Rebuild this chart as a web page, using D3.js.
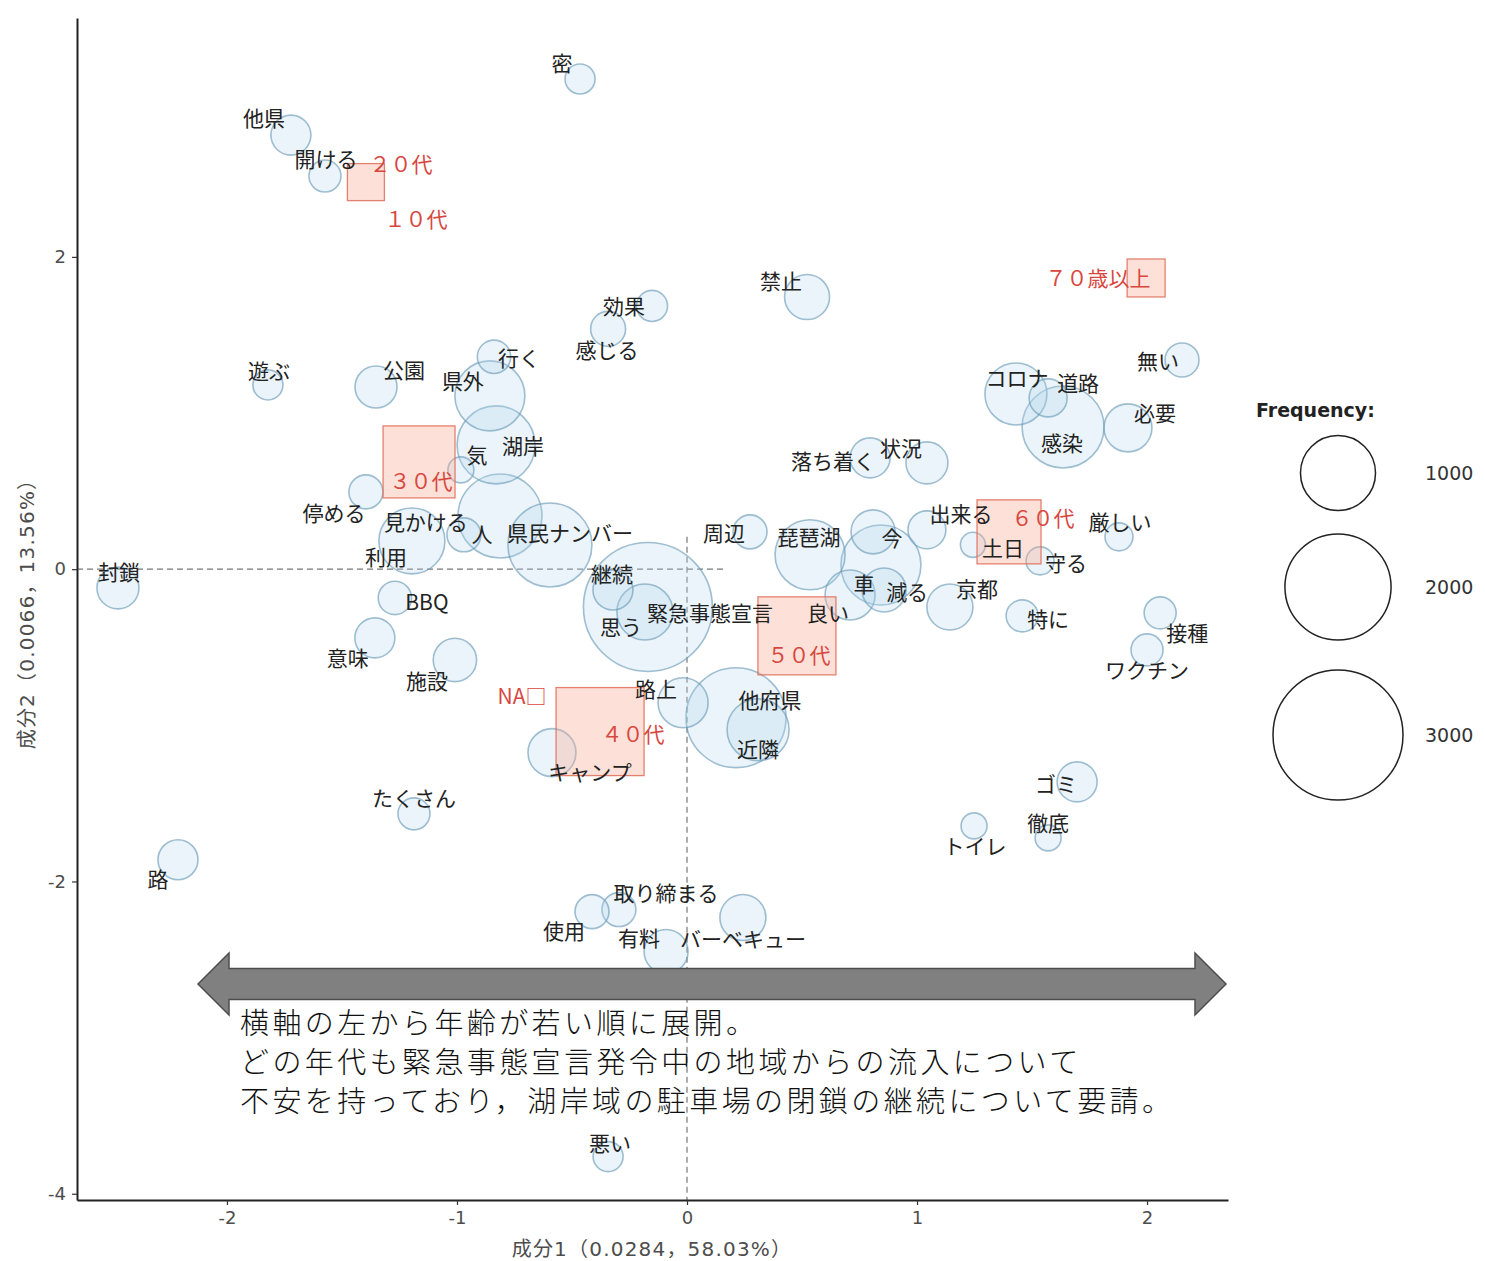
<!DOCTYPE html>
<html>
<head>
<meta charset="utf-8">
<script src="https://cdn.jsdelivr.net/npm/d3@7.9.0/dist/d3.min.js"></script>
<style>
  body { margin: 0; background: #fff; }
  svg { display: block; }
  .lab { font-family: "Noto Sans CJK JP", sans-serif; font-size: 21px; fill: #222; }
  .age { font-family: "Noto Sans CJK JP", sans-serif; font-size: 21px; fill: #d8473f; }
  .tick text { font-family: "DejaVu Sans", sans-serif; font-size: 18px; fill: #4d4d4d; }
  .ttl { font-family: "DejaVu Sans", "Noto Sans CJK JP", sans-serif; font-size: 20px; letter-spacing: 1.2px; fill: #4d4d4d; }
</style>
</head>
<body>
<svg id="chart" width="1485" height="1261"></svg>
<script>
// words (correspondence analysis, dim1 / dim2 / frequency)
const words = ['密','他県','開ける','禁止','効果','感じる','行く','遊ぶ','公園','県外',
  '湖岸','気','停める','利用','見かける','人','県民ナンバー','継続','緊急事態宣言','思う',
  '周辺','琵琶湖','今','車','減る','良い','出来る','京都','土日','守る',
  '厳しい','特に','落ち着く','状況','コロナ','道路','感染','必要','無い','接種',
  'ワクチン','ゴミ','徹底','トイレ','封鎖','BBQ','意味','施設','たくさん','路',
  '路上','他府県','近隣','キャンプ','取り締まる','使用','有料','バーベキュー','悪い'];
const dim1 = [-0.465,-1.722,-1.574,0.522,-0.152,-0.343,-0.839,-1.822,-1.352,-0.857,
  -0.830,-0.983,-1.396,-1.196,-0.970,-0.813,-0.596,-0.322,-0.170,-0.183,
  0.274,0.535,0.809,0.843,0.857,0.709,1.043,1.143,1.243,1.535,
  1.878,1.457,0.796,1.043,1.430,1.570,1.635,1.917,2.152,2.057,
  2.000,1.696,1.570,1.248,-2.474,-1.270,-1.357,-1.009,-1.187,-2.213,
  -0.017,0.213,0.309,-0.587,-0.296,-0.413,-0.091,0.243,-0.343];
const dim2 = [3.139,2.780,2.518,1.743,1.686,1.539,1.360,1.180,1.167,1.110,
  0.796,0.636,0.495,0.181,0.220,0.341,0.155,-0.133,-0.242,-0.274,
  0.239,0.092,0.239,0.027,-0.133,-0.165,0.252,-0.242,0.156,0.053,
  0.207,-0.299,0.713,0.681,1.122,1.097,0.911,0.905,1.340,-0.280,
  -0.517,-1.362,-1.721,-1.644,-0.120,-0.184,-0.440,-0.581,-1.567,-1.861,
  -0.855,-0.951,-1.028,-1.175,-2.180,-2.193,-2.449,-2.231,-3.762];
const freq = [160,284,182,360,171,217,198,160,313,870,
  1080,120,205,773,205,1253,1253,284,2950,557,
  205,870,344,1136,344,444,256,376,111,139,
  139,182,284,313,682,256,1194,409,205,182,
  182,284,120,120,313,198,284,334,182,284,
  444,1775,682,409,205,205,344,376,160];

// outside variable: age group (10代 / NA show no visible square)
const ages = ['１０代','２０代','３０代','４０代','５０代','６０代','７０歳以上','NA□'];
const ageDim1 = [-1.396,-1.396,-1.165,-0.378,0.478,1.400,1.996,-0.604];
const ageDim2 = [2.479,2.479,0.687,-1.040,-0.427,0.239,1.865,-0.814];
const ageFreq = [0,243,920,1375,1080,727,256,0];

const xTicks = [-2,-1,0,1,2];
const yTicks = [-4,-2,0,2];
const legendValues = [1000,2000,3000];

// label placement (px offsets from the point, as the repel left them)
const wordNudge = [[-18,-17],[-27,-18],[1,-18],[-26,-17],[-28,-1],[-1,20],[25,0],[1,-15],[28,-18],[-27,-16],
  [27,0],[16,-16],[-32,20],[-26,15],[-38,-14],[-18,17],[20,-13],[-1,-17],[62,5],[-24,14],
  [-26,0],[-1,-19],[19,5],[-17,18],[23,1],[-22,17],[34,-17],[27,-19],[30,2],[26,1],
  [1,-16],[26,2],[-37,2],[-26,-16],[1,-17],[30,-16],[-1,15],[27,-16],[-24,0],[27,19],
  [0,19],[-21,1],[0,-16],[1,19],[1,-17],[32,3],[-27,19],[-28,20],[0,-17],[-20,18],
  [-27,-15],[34,-19],[0,18],[38,18],[47,-18],[-28,18],[-27,-15],[0,20],[2,-15]];
const ageNudge = [[50,36],[35,-19],[2,18],[33,1],[2,18],[34,-15],[-48,-1],[-26,-1]];

const svg = d3.select('#chart');
const x = d3.scaleLinear().domain([-2.652, 2.352]).range([77, 1228]);
const y = d3.scaleLinear().domain([-4.04, 3.53]).range([1200, 18]);
const r = d3.scaleSqrt().domain([0, 3000]).range([0, 65]);

// dashed origin lines
svg.append('line').attr('x1', x(-2.652)).attr('x2', x(0.165)).attr('y1', y(0)).attr('y2', y(0))
  .attr('stroke', '#777').attr('stroke-width', 1.2).attr('stroke-dasharray', '6,4');
svg.append('line').attr('x1', x(0)).attr('x2', x(0)).attr('y1', y(0.207)).attr('y2', y(-4.04))
  .attr('stroke', '#777').attr('stroke-width', 1.2).attr('stroke-dasharray', '6,4');

// bubbles
let pts = words.map((w, i) => ({w, x: dim1[i], y: dim2[i], f: freq[i], n: wordNudge[i]}));
pts.sort((a, b) => b.f - a.f);
svg.append('g').selectAll('circle').data(pts).join('circle')
  .attr('cx', d => x(d.x)).attr('cy', d => y(d.y)).attr('r', d => r(d.f))
  .attr('fill', '#b5d9ee').attr('fill-opacity', 0.28)
  .attr('stroke', '#6f9cb8').attr('stroke-opacity', 0.65).attr('stroke-width', 1.6);

// age squares
let ag = ages.map((a, i) => ({a, x: ageDim1[i], y: ageDim2[i], f: ageFreq[i], n: ageNudge[i]}));
svg.append('g').selectAll('rect').data(ag.filter(d => d.f > 0).sort((a, b) => b.f - a.f)).join('rect')
  .attr('x', d => x(d.x) - r(d.f)).attr('y', d => y(d.y) - r(d.f))
  .attr('width', d => 2 * r(d.f)).attr('height', d => 2 * r(d.f))
  .attr('fill', '#f8a892').attr('fill-opacity', 0.35)
  .attr('stroke', '#df6d58').attr('stroke-opacity', 0.85).attr('stroke-width', 1.3);

// labels
svg.append('g').selectAll('text').data(pts).join('text').attr('class', 'lab')
  .attr('x', d => x(d.x) + d.n[0]).attr('y', d => y(d.y) + d.n[1])
  .attr('text-anchor', 'middle').attr('dominant-baseline', 'central')
  .text(d => d.w);
svg.append('g').selectAll('text').data(ag).join('text').attr('class', 'age')
  .attr('x', d => x(d.x) + d.n[0]).attr('y', d => y(d.y) + d.n[1])
  .attr('text-anchor', 'middle').attr('dominant-baseline', 'central')
  .text(d => d.a);

// axes
const fmt = d => String(d);
const xa = svg.append('g').attr('transform', 'translate(0,1200)')
  .call(d3.axisBottom(x).tickValues(xTicks).tickFormat(fmt).tickSize(5).tickSizeOuter(0).tickPadding(6));
const ya = svg.append('g').attr('transform', 'translate(77,0)')
  .call(d3.axisLeft(y).tickValues(yTicks).tickFormat(fmt).tickSize(5).tickSizeOuter(0).tickPadding(6));
[xa, ya].forEach(g => {
  g.select('.domain').attr('stroke', '#222').attr('stroke-width', 2);
  g.selectAll('.tick line').attr('stroke', '#333').attr('stroke-width', 1.2);
});

svg.append('text').attr('class', 'ttl').attr('x', 652).attr('y', 1249)
  .attr('text-anchor', 'middle').attr('dominant-baseline', 'central')
  .text('成分1（0.0284，58.03%）');
svg.append('text').attr('class', 'ttl')
  .attr('transform', 'translate(27,609) rotate(-90)')
  .attr('text-anchor', 'middle').attr('dominant-baseline', 'central')
  .text('成分2（0.0066，13.56%）');

// legend
const lg = svg.append('g');
lg.append('text').attr('x', 1256).attr('y', 410).attr('dominant-baseline', 'central')
  .style('font-family', '"DejaVu Sans", sans-serif').style('font-size', '19px')
  .style('font-weight', 'bold').attr('fill', '#222').text('Frequency:');
const legY = [473, 587, 735];
legendValues.forEach((v, i) => {
  lg.append('circle').attr('cx', 1338).attr('cy', legY[i]).attr('r', r(v))
    .attr('fill', 'none').attr('stroke', '#222').attr('stroke-width', 1.5);
  lg.append('text').attr('x', 1425).attr('y', legY[i]).attr('dominant-baseline', 'central')
    .style('font-family', '"DejaVu Sans", sans-serif').style('font-size', '19px')
    .attr('fill', '#333').text(v);
});

// annotation arrow + note
const ar = {l: 198, r: 1226, hl: 229, hr: 1195, mid: 984, sh: 15.5, hh: 31};
svg.append('path')
  .attr('d', `M${ar.l},${ar.mid} L${ar.hl},${ar.mid - ar.hh} L${ar.hl},${ar.mid - ar.sh} L${ar.hr},${ar.mid - ar.sh}
    L${ar.hr},${ar.mid - ar.hh} L${ar.r},${ar.mid} L${ar.hr},${ar.mid + ar.hh} L${ar.hr},${ar.mid + ar.sh}
    L${ar.hl},${ar.mid + ar.sh} L${ar.hl},${ar.mid + ar.hh} Z`)
  .attr('fill', '#808080').attr('stroke', '#4d4d4d').attr('stroke-width', 1.5);

const note = ['横軸の左から年齢が若い順に展開。',
  'どの年代も緊急事態宣言発令中の地域からの流入について',
  '不安を持っており，湖岸域の駐車場の閉鎖の継続について要請。'];
note.forEach((t, i) => {
  svg.append('text').attr('x', 240).attr('y', 1034 + i * 39)
    .style('font-family', '"Noto Sans CJK JP", sans-serif').style('font-size', '29px')
    .style('font-weight', 300).style('letter-spacing', '3.4px')
    .attr('fill', '#111').text(t);
});
</script>
</body>
</html>
